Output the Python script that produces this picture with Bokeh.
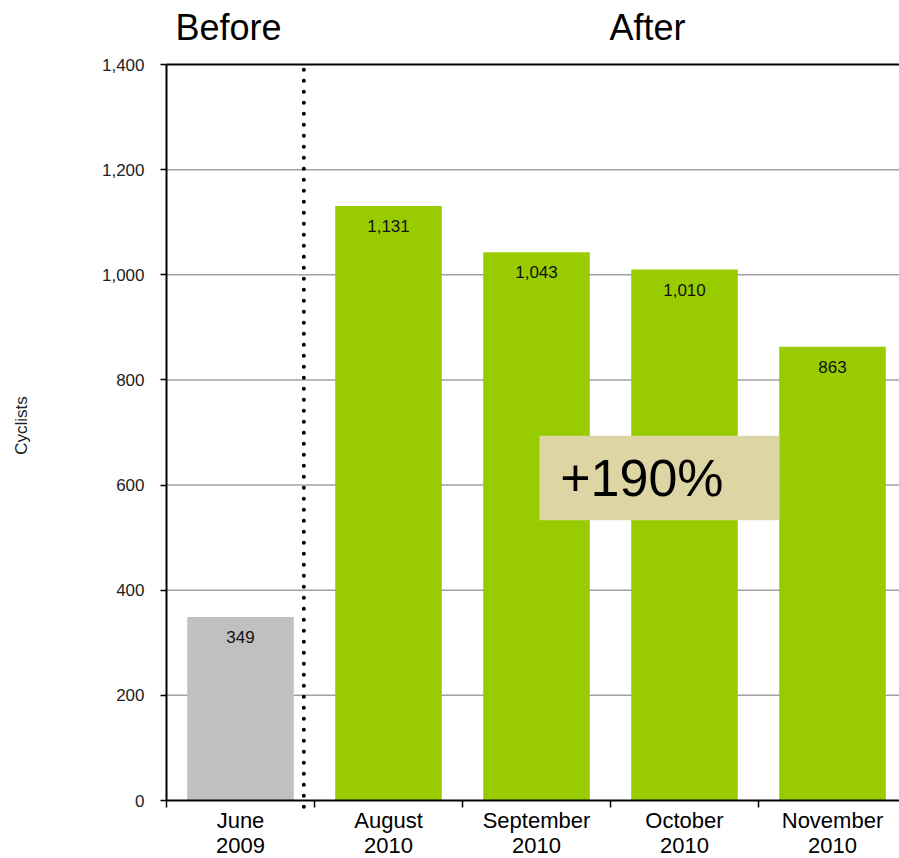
import math
from bokeh.plotting import figure
from bokeh.models import (Range1d, FixedTicker, NumeralTickFormatter, LinearAxis,
                          ColumnDataSource)
from bokeh.core.properties import value
from bokeh.embed import file_html
from bokeh.resources import INLINE

# ---- data ----
categories = ["June\n2009", "August\n2010", "September\n2010", "October\n2010", "November\n2010"]
cyclists = [349, 1131, 1043, 1010, 863]
periods = ["Before", "After", "After", "After", "After"]
y_ticks = [0, 200, 400, 600, 800, 1000, 1200, 1400]
change_label = "+190%"
y_title = "Cyclists"
headers = ["Before", "After"]

FONT = "Liberation Sans"
period_colors = {"Before": "#C0C0C0", "After": "#99CC00"}

xs = [i + 0.5 for i in range(len(categories))]
src = ColumnDataSource(dict(
    x=xs,
    top=cyclists,
    color=[period_colors[p] for p in periods],
    label=[f"{v:,}" for v in cyclists],
))

W, H = 899, 858
LEFT = 166          # pixel x of the value axis
AXIS_Y = 800        # pixel y of the category axis
TOP_Y = 64          # pixel y of the top of the value axis
slot_px = 148.0
x_start = -LEFT / slot_px
x_end = (W - LEFT) / slot_px
y_max = 1400
px_per_unit = (AXIS_Y - TOP_Y) / y_max
y_start = -(H - AXIS_Y) / px_per_unit
y_end = AXIS_Y / px_per_unit

p = figure(width=W, height=H, output_backend="svg", toolbar_location=None,
           x_range=Range1d(x_start, x_end), y_range=Range1d(y_start, y_end),
           x_axis_location=None, y_axis_location=None,
           min_border_left=0, min_border_top=0, min_border_bottom=0,
           min_border_right=0)
p.outline_line_color = None
p.background_fill_color = "white"
p.border_fill_color = "white"
p.xgrid.visible = False
p.ygrid.visible = False

# horizontal grid lines (drawn first so bars cover them)
grid_vals = y_ticks[1:-1]
p.segment(x0=[0] * len(grid_vals), y0=grid_vals, x1=[x_end] * len(grid_vals),
          y1=grid_vals, line_color="#A0A0A0", line_width=1.5)

# bars
p.vbar(x="x", top="top", bottom=0, width=0.72, fill_color="color",
       line_color=None, source=src)

# value labels inside bars
p.text(x="x", y="top", text="label", source=src, y_offset=20,
       text_align="center", text_baseline="middle",
       text_font=value(FONT), text_font_size="17px", text_color="#111111")

# dotted separator between before and after
sep_x = 0.928
p.segment(x0=[sep_x], y0=[-12], x1=[sep_x], y1=[y_max], line_color="black",
          line_width=4, line_dash="0 11", line_cap="round")

# top border line
p.segment(x0=[0], y0=[y_max], x1=[x_end], y1=[y_max], line_color="black", line_width=2)

# change annotation box
p.quad(left=[2.52], right=[4.14], bottom=[533], top=[694],
       fill_color="#DED5A5", line_color=None)
p.text(x=[2.66], y=[613], text=[change_label], text_align="left",
       text_baseline="middle", text_font=value(FONT), text_font_size="52px",
       text_color="black")

# Before / After headers
p.text(x=[0.419, 3.25], y=[1470, 1470], text=headers, text_align="center",
       text_baseline="middle", text_font=value(FONT), text_font_size="36px",
       text_color="black")

# y axis title
p.text(x=[(21 - LEFT) / slot_px], y=[(AXIS_Y - 425) / px_per_unit], text=[y_title],
       angle=math.pi / 2, text_align="center", text_baseline="middle",
       text_font=value(FONT), text_font_size="17px", text_color="#222222")

# y axis, fixed at x = 0
ya = LinearAxis(fixed_location=0)
ya.ticker = FixedTicker(ticks=y_ticks, minor_ticks=[])
ya.bounds = (0, y_max)
ya.formatter = NumeralTickFormatter(format="0,0")
ya.axis_line_color = "black"
ya.axis_line_width = 2
ya.major_tick_line_color = "black"
ya.major_tick_line_width = 1.5
ya.major_tick_out = 6
ya.major_tick_in = 0
ya.minor_tick_line_color = None
ya.major_label_standoff = 16
ya.major_label_text_font = FONT
ya.major_label_text_font_size = "17px"
ya.major_label_text_color = "#222222"
p.add_layout(ya, "left")

# x axis, fixed at y = 0
xa = LinearAxis(fixed_location=0)
xa.bounds = (0, x_end)
xa.ticker = FixedTicker(ticks=xs, minor_ticks=list(range(len(categories) + 1)))
xa.major_label_overrides = {x: c for x, c in zip(xs, categories)}
xa.axis_line_color = "black"
xa.axis_line_width = 2
xa.major_tick_line_color = None
xa.major_tick_out = 0
xa.major_tick_in = 0
xa.minor_tick_line_color = "black"
xa.minor_tick_line_width = 1.5
xa.minor_tick_out = 7
xa.minor_tick_in = 0
xa.major_label_standoff = 0
xa.major_label_text_font = FONT
xa.major_label_text_font_size = "22px"
xa.major_label_text_color = "black"
xa.major_label_text_line_height = 1.0
p.add_layout(xa, "below")

open("out.html", "w").write(file_html(p, INLINE))
